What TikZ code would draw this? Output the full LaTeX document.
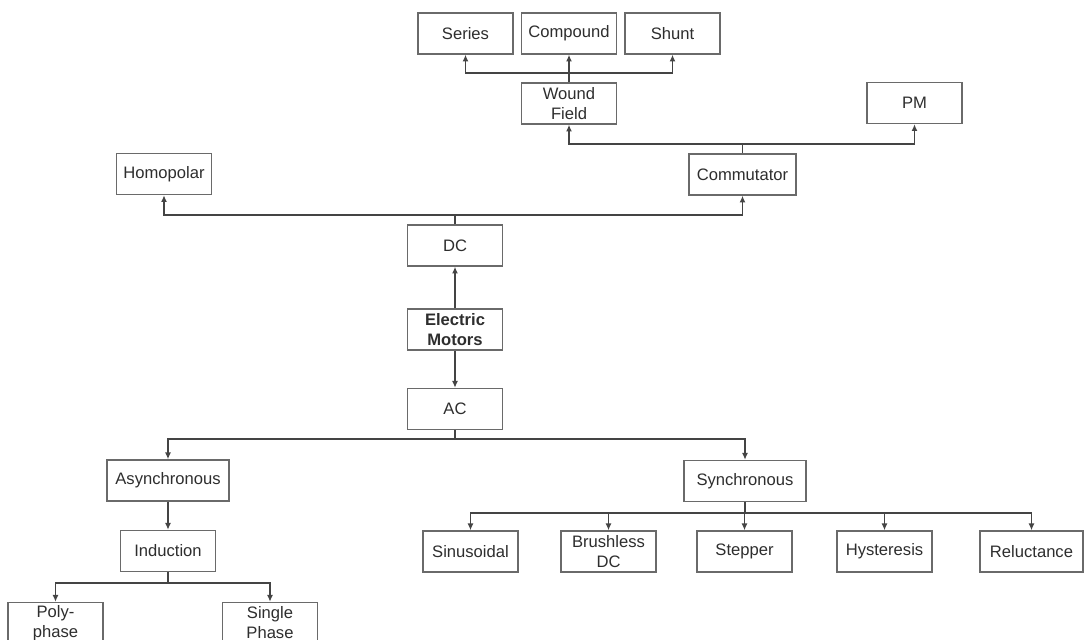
\documentclass[tikz,border=0pt]{standalone}
\usepackage{fontspec}
\setmainfont{Liberation Sans}
\usepackage{tikz}
\usetikzlibrary{arrows.meta,calc,positioning}
\definecolor{Frame}{HTML}{6A6A6A}
\definecolor{Wire}{HTML}{444444}
\definecolor{Ink}{HTML}{2E2E2E}

\begin{document}
\begin{tikzpicture}[x=0.5pt,y=-0.5pt,
  box/.style={draw=Frame,line width=0.7pt,fill=white,align=center,minimum width=47.5pt,minimum height=20.5pt,inner sep=0pt,text=Ink,font=\fontsize{8.3}{10}\selectfont},
  wide/.style={box,minimum width=61pt},
  arr/.style={-{Latex[length=3.4pt,width=3pt]},line width=0.7pt,color=Wire},
  wire/.style={line width=0.7pt,color=Wire}
]
\useasboundingbox (0,0) rectangle (1087,640);
\clip (0,0) rectangle (1087,640);
% DC branch
\node[box] (series) at (465.5,33.5) {Series};
\node[box] (compound) at (569,33.5) {Compound};
\node[box] (shunt) at (672.5,33.5) {Shunt};
\node[box] (wound) at (569,103.5) {Wound\\Field};
\node[box] (pm) at (914.5,103) {PM};
\node[box] (homopolar) at (164,174) {Homopolar};
\node[box,minimum width=53.5pt] (commutator) at (742.5,174.5) {Commutator};
\node[box] (dc) at (455,245.5) {DC};
\node[box,font=\fontsize{8.3}{10}\selectfont\bfseries] (motors) at (455,329.5) {Electric\\Motors};
% AC branch
\node[box] (ac) at (455,409) {AC};
\node[wide] (async) at (168,480.5) {Asynchronous};
\node[wide] (sync) at (745,481) {Synchronous};
\node[box] (induction) at (168,551) {Induction};
\node[box] (poly) at (55.5,623) {Poly-\\phase};
\node[box] (single) at (270,623) {Single\\Phase};
\node[box] (sinus) at (470.5,551.5) {Sinusoidal};
\node[box] (brushless) at (608.5,551.5) {Brushless\\DC};
\node[box] (stepper) at (744.5,551.5) {Stepper};
\node[box] (hyst) at (884.5,551.5) {Hysteresis};
\node[box,minimum width=51.5pt] (reluct) at (1031.5,551.5) {Reluctance};
% junctions
\coordinate (woundbus) at (569,73);
\coordinate (commbus) at (742.5,144);
\coordinate (dcbus) at (455,215);
\coordinate (acbus) at (455,439);
\coordinate (indbus) at (168,583);
\coordinate (syncbus) at (745,513);
\draw[arr] (wound.north) -- (compound.south);
\draw[arr] (woundbus) -| (series.south);
\draw[arr] (woundbus) -| (shunt.south);
\draw[wire] (commutator.north) -- (commbus);
\draw[arr] (commbus) -| (wound.south);
\draw[arr] (commbus) -| (pm.south);
\draw[wire] (dc.north) -- (dcbus);
\draw[arr] (dcbus) -| (homopolar.south);
\draw[arr] (dcbus) -| (commutator.south);
\draw[arr] (motors) -- (dc);
\draw[arr] (motors) -- (ac);
\draw[wire] (ac.south) -- (acbus);
\draw[arr] (acbus) -| (async.north);
\draw[arr] (acbus) -| (sync.north);
\draw[arr] (async) -- (induction);
\draw[wire] (induction.south) -- (indbus);
\draw[arr] (indbus) -| (poly.north);
\draw[arr] (indbus) -| (single.north);
\draw[wire] (sync.south) -- (syncbus);
\foreach \k in {sinus,brushless,stepper,hyst,reluct}
  \draw[arr] (syncbus) -| (\k.north);
\end{tikzpicture}
\end{document}
